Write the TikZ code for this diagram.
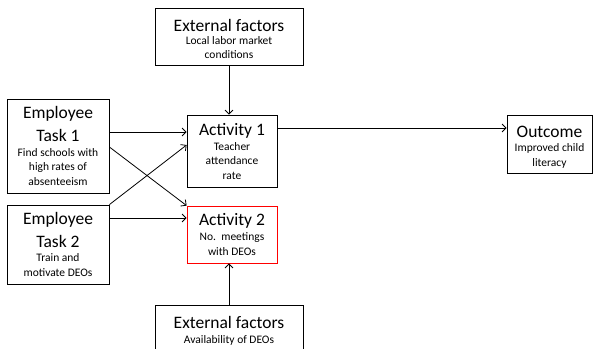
\documentclass[tikz,border=0pt]{standalone}
\usepackage{fontspec}
\setmainfont{Carlito}
\usetikzlibrary{arrows.meta}

\newcommand{\boxtitle}[1]{{\fontsize{17.5}{21}\selectfont #1}}
\tikzset{
  blk/.style={draw, line width=0.8pt, align=center, inner sep=1pt,
    font=\fontsize{11.5}{14.5}\selectfont},
  arr/.style={line width=0.8pt, -{Straight Barb[length=4pt,width=8pt,line width=0.8pt]}}
}

\begin{document}
\begin{tikzpicture}[x=1pt,y=1pt]
\useasboundingbox (0,0) rectangle (593,-348);
\clip (0,0) rectangle (593,-348);
% boxes
\node[blk, minimum width=148, minimum height=57] (ext1) at (229,-36.5)
  {\rule{0pt}{8pt}\\[-5pt]\boxtitle{External factors}\\[-1.5pt] Local labor market\\ conditions};
\node[blk, minimum width=102, minimum height=94] (task1) at (58,-146)
  {\boxtitle{Employee}\\[6.5pt] \boxtitle{Task 1}\\[0.5pt] Find schools with\\ high rates of\\ absenteeism};
\node[blk, minimum width=102, minimum height=79] (task2) at (58,-244.5)
  {\boxtitle{Employee}\\[6.5pt] \boxtitle{Task 2}\\[0pt] Train and\\ motivate DEOs};
\node[blk, minimum width=90, minimum height=72] (act1) at (232,-151)
  {\boxtitle{Activity 1}\\[0.5pt] Teacher\\ attendance\\ rate};
\node[blk, draw=red, minimum width=90, minimum height=57] (act2) at (232,-234.5)
  {\boxtitle{Activity 2}\\[0.5pt] No.\ \ meetings\\ with DEOs};
\node[blk, minimum width=85, minimum height=58] (out) at (549.5,-144)
  {\rule{0pt}{8pt}\\[-5pt]\boxtitle{Outcome}\\[0pt] Improved child\\ literacy};
\node[blk, minimum width=148, minimum height=57] (ext2) at (229,-333.5)
  {\boxtitle{External factors}\\[0pt] Availability of DEOs\\[-7pt] \mbox{}};
% arrows
\draw[arr] (ext1.south) -- (ext1.south |- act1.north);
\draw[arr] (ext2.north) -- (ext2.north |- act2.south);
\draw[arr] (task1.east |- 0,-132) -- (act1.west |- 0,-132);
\draw[arr] ([yshift=-1pt]task1.east) -- (act2.north west);
\draw[arr] (task2.north east) -- ([yshift=6pt]act1.west);
\draw[arr] (task2.east |- 0,-218) -- (act2.west |- 0,-218);
\draw[arr] (act1.east |- 0,-128) -- (out.west |- 0,-128);
\end{tikzpicture}
\end{document}
